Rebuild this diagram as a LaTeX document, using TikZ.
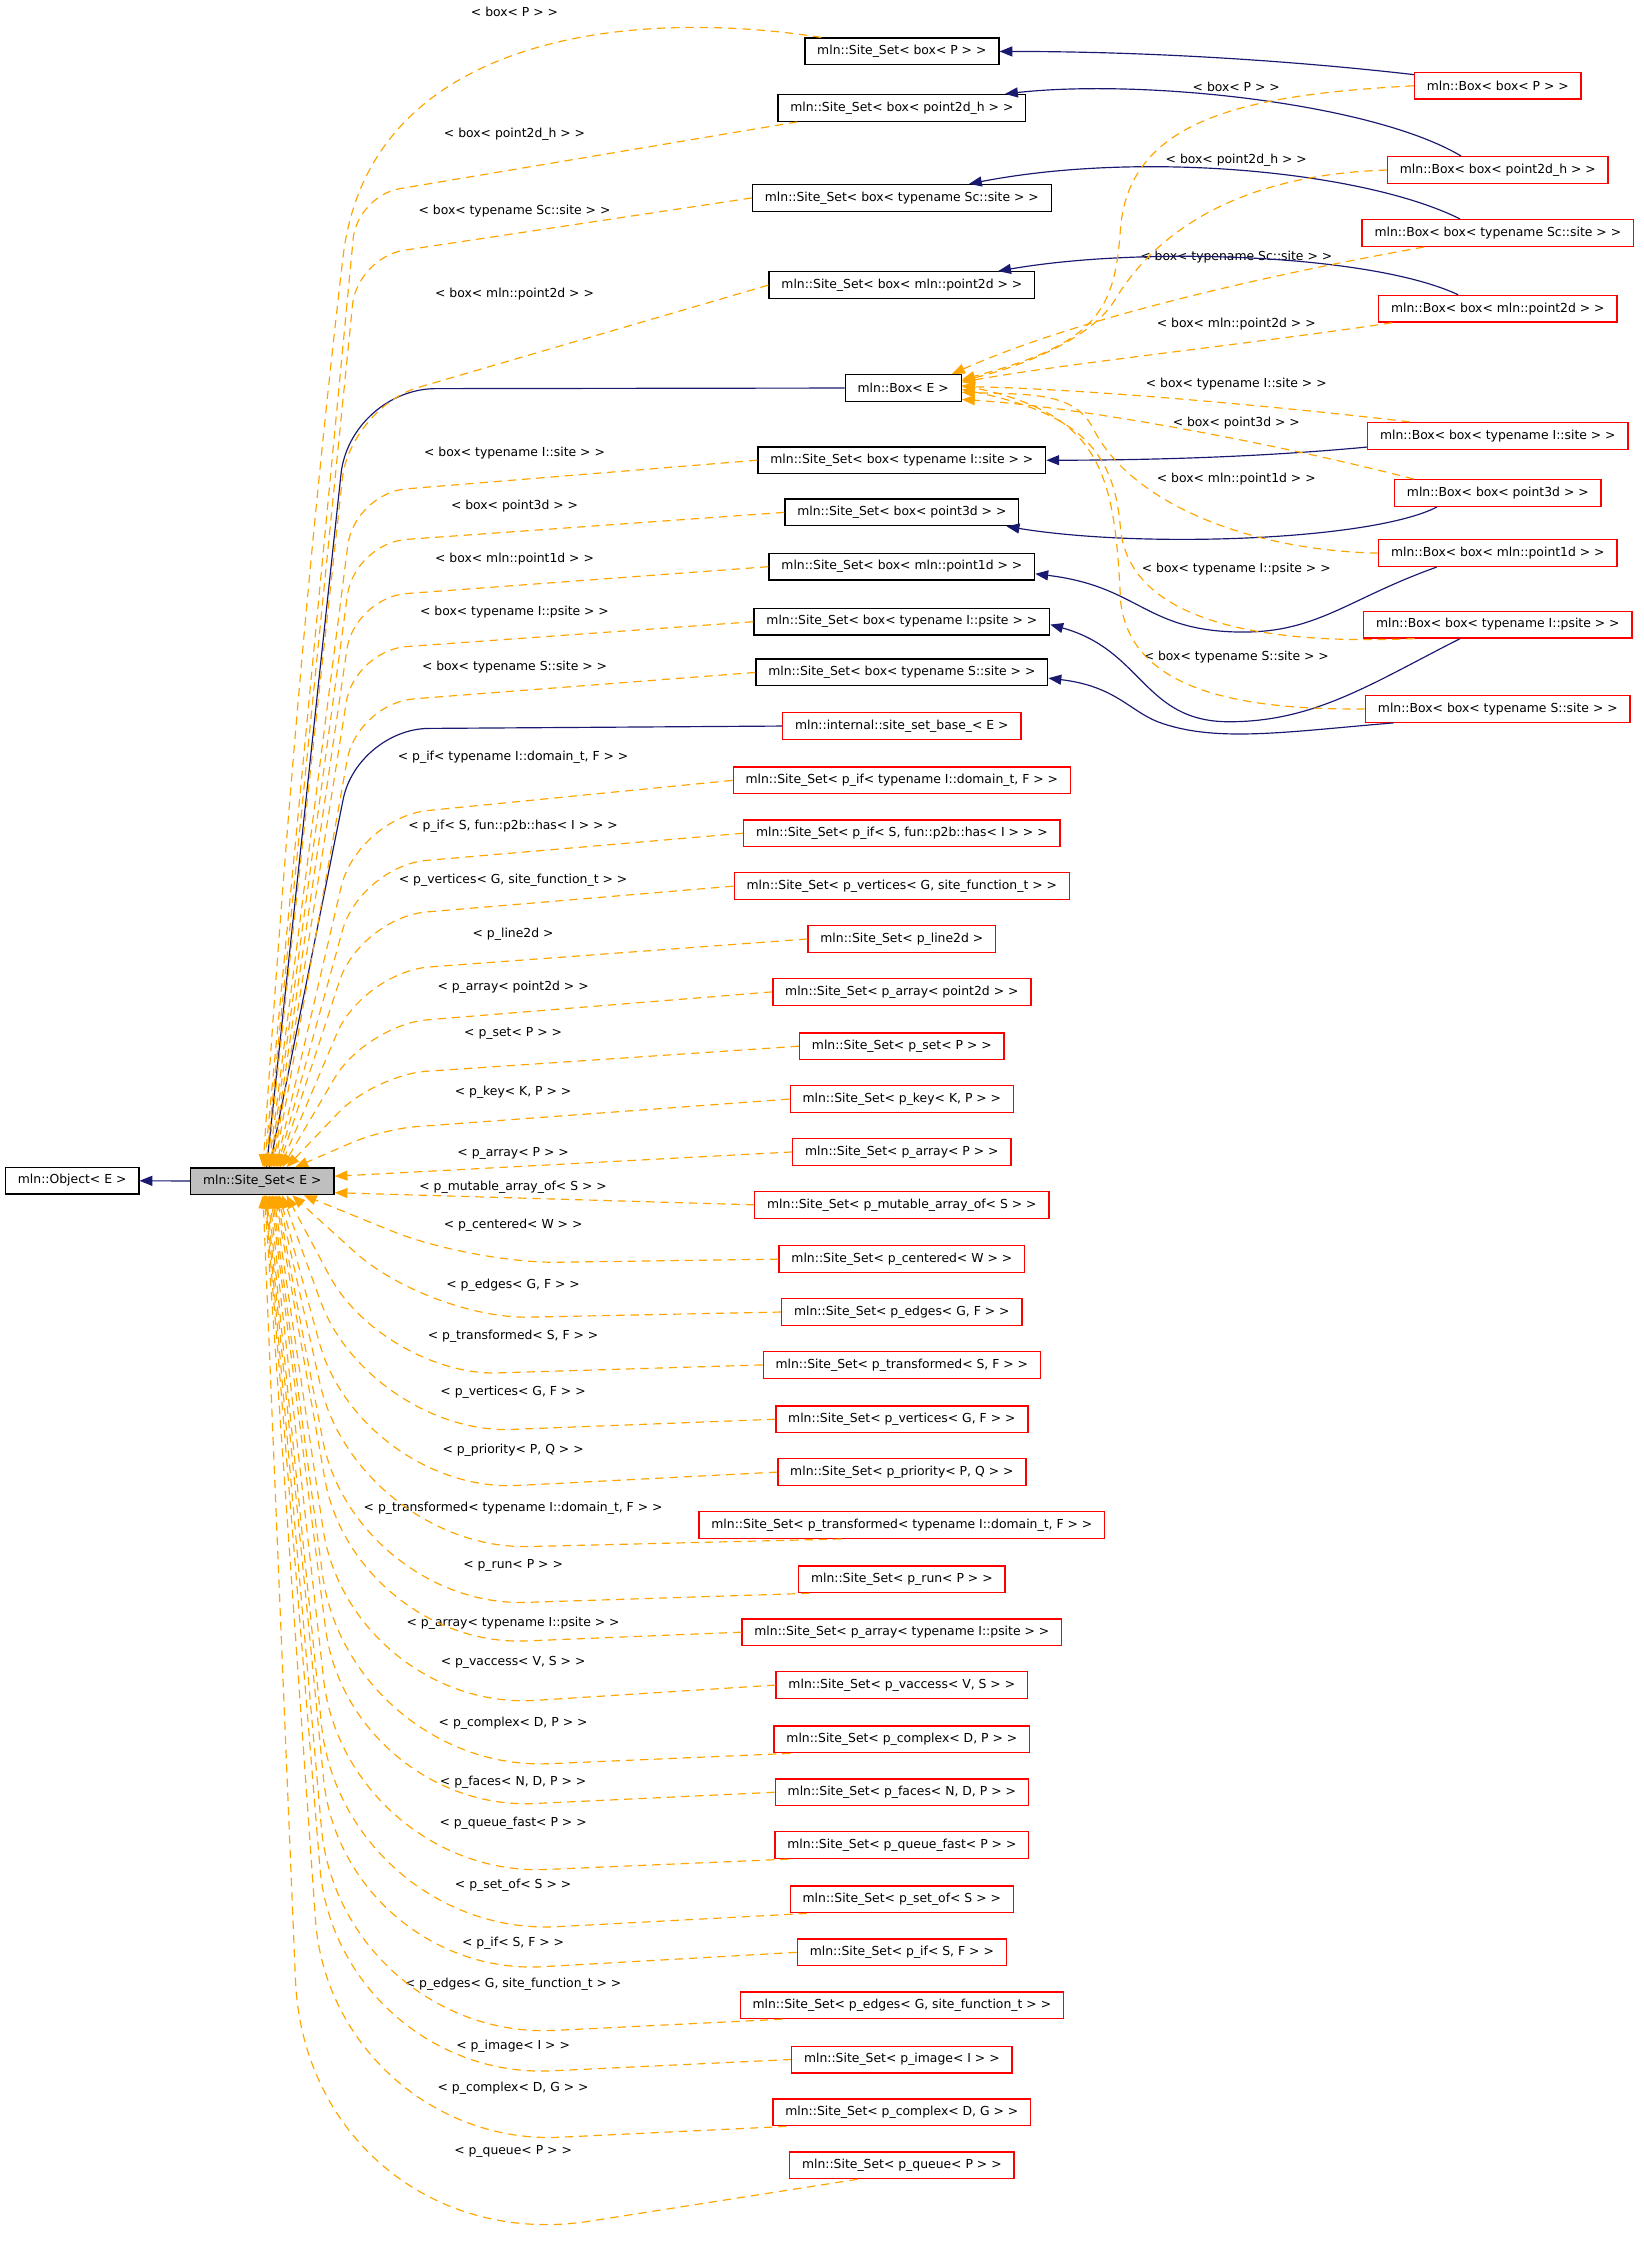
\documentclass[tikz,border=0pt]{standalone}
\usepackage{fontspec}
\setmainfont{DejaVu Sans}
\usetikzlibrary{arrows.meta,calc}
\definecolor{EdgeNavy}{HTML}{191970}
\definecolor{EdgeOrange}{HTML}{FFA500}
\definecolor{BoxRed}{HTML}{FF0000}
\definecolor{BoxGray}{HTML}{BFBFBF}

\begin{document}
\begin{tikzpicture}[
  x=0.03cm,y=-0.03cm,
  every node/.style={font=\fontsize{7.4}{9}\selectfont},
  cls/.style={draw=black,line width=0.8pt,fill=white,inner xsep=0.26cm,inner ysep=0pt,minimum height=0.56cm},
  undoc/.style={cls,draw=BoxRed},
  lbl/.style={inner sep=0pt},
  pub/.style={draw=EdgeNavy,line width=0.7pt,-{Triangle[length=0.27cm,width=0.21cm]}},
  tmpl/.style={draw=EdgeOrange,line width=0.7pt,dash pattern=on 5pt off 3.5pt,-{Triangle[length=0.27cm,width=0.21cm]}}
]
  \useasboundingbox (0,0) rectangle (1150,1568);

  % base classes
  \node[cls] (obj) at (50.5,826) {mln::Object< E >};
  \node[cls,fill=BoxGray] (ss) at (183.5,826.5) {mln::Site\_Set< E >};
  \node[cls] (boxE) at (632,271.5) {mln::Box< E >};
  \node[undoc] (base) at (631,508) {mln::internal::site\_set\_base\_< E >};

  % box< ... > instances
  \foreach \n/\inn/\ys/\lys/\yb/\lyb in {
    P/P/36/8/60/61,
    Ph/point2d\_h/75.5/94/119/112,
    Sc/typename Sc::site/138.5/148/163/180,
    Mtwo/mln::point2d/199.5/206/216/227,
    Is/typename I::site/322/317/305/269,
    Pthree/point3d/358.5/354/345/296,
    Mone/mln::point1d/396.5/391/387/335,
    Ip/typename I::psite/435/428/437/398,
    Ss/typename S::site/470.5/467/496/460}{
    \node[cls] (ssb\n) at (631,\ys) {mln::Site\_Set< box< \inn{} > >};
    \node[undoc] (bx\n) at (1048,\yb) {mln::Box< box< \inn{} > >};
    \node[lbl] (lssb\n) at (360,\lys) {< box< \inn{} > >};
    \node[lbl] (lbx\n) at (865,\lyb) {< box< \inn{} > >};
  }

  % site sets
  \foreach \n/\inn/\y/\ly in {
    IfDom/{p\_if< typename I::domain\_t, F >}/546/530,
    IfHas/{p\_if< S, fun::p2b::has< I > >}/583/578,
    VertSf/{p\_vertices< G, site\_function\_t >}/620/616,
    Line/p\_line2d/657/654,
    ArrPt/{p\_array< point2d >}/694/691,
    Set/{p\_set< P >}/732/723,
    Key/{p\_key< K, P >}/769/764,
    ArrP/{p\_array< P >}/806/807,
    Mut/{p\_mutable\_array\_of< S >}/843/831,
    Cent/{p\_centered< W >}/881/857,
    EdgGF/{p\_edges< G, F >}/918/899,
    TrSF/{p\_transformed< S, F >}/955/935,
    VertGF/{p\_vertices< G, F >}/993/974,
    Prio/{p\_priority< P, Q >}/1030/1015,
    TrDom/{p\_transformed< typename I::domain\_t, F >}/1067/1055,
    Run/{p\_run< P >}/1105/1095,
    ArrIp/{p\_array< typename I::psite >}/1142/1136,
    Vacc/{p\_vaccess< V, S >}/1179/1163,
    CplxDP/{p\_complex< D, P >}/1217/1206,
    Faces/{p\_faces< N, D, P >}/1254/1247,
    QFast/{p\_queue\_fast< P >}/1291/1276,
    SetOf/{p\_set\_of< S >}/1329/1319,
    IfSF/{p\_if< S, F >}/1366/1360,
    EdgSf/{p\_edges< G, site\_function\_t >}/1403/1388,
    Image/{p\_image< I >}/1441/1432,
    CplxDG/{p\_complex< D, G >}/1478/1461,
    Queue/{p\_queue< P >}/1515/1505}{
    \node[undoc] (p\n) at (631,\y) {mln::Site\_Set< \inn{} >};
    \node[lbl] (lp\n) at (359,\ly) {< \inn{} >};
  }

  % public inheritance
  \draw[pub] (ss) -- (obj);
  \draw[pub,rounded corners=18mm] (boxE.west) -- (245,272) -- ($(ss.north)+(3,0)$);
  \draw[pub,rounded corners=15mm] (base.west) -- (250,510) -- ($(ss.north)+(5,0)$);

  \draw[pub] ($(bxP.north west)+(0,2)$) .. controls (900,42) and (800,36) .. (ssbP.east);
  \draw[pub] ($(bxPh.north west)+(52,0)$) .. controls (960,72) and (800,55) .. ($(ssbPh.north east)+(-15,0)$);
  \draw[pub] ($(bxSc.north west)+(69,0)$) .. controls (955,120) and (800,105) .. ($(ssbSc.north east)+(-58,0)$);
  \draw[pub] ($(bxMtwo.north west)+(56,0)$) .. controls (960,178) and (800,172) .. ($(ssbMtwo.north east)+(-26,0)$);
  \draw[pub] ($(bxIs.south west)+(0,-2)$) .. controls (880,320) and (800,322) .. (ssbIs.east);
  \draw[pub] ($(bxPthree.south west)+(30,0)$) .. controls (960,378) and (800,384) .. ($(ssbPthree.south east)+(-9,0)$);
  \draw[pub] ($(bxMone.south west)+(41,0)$) .. controls (940,420) and (920,445) .. (860,442)
    .. controls (800,439) and (795,410) .. ($(ssbMone.east)+(0,5)$);
  \draw[pub] ($(bxIp.south west)+(68,0)$) .. controls (960,478) and (920,505) .. (860,505)
    .. controls (800,505) and (800,455) .. ($(ssbIp.east)+(0,2)$);
  \draw[pub] ($(bxSs.south west)+(20,0)$) .. controls (900,512) and (850,520) .. (810,505)
    .. controls (790,497) and (780,480) .. ($(ssbSs.east)+(0,4)$);

  % template instances of Box< E >
  \draw[tmpl] (bxP.west) .. controls (880,66) and (790,80) .. (784,160)
    .. controls (780,215) and (770,240) .. ($(boxE.east)+(0,-6)$);
  \draw[tmpl] (bxPh.west) .. controls (870,122) and (810,160) .. (780,210)
    .. controls (765,235) and (720,255) .. ($(boxE.east)+(0,-5)$);
  \draw[tmpl] ($(bxSc.south west)+(44,0)$) .. controls (900,190) and (760,220) .. ($(boxE.north east)+(-7,0)$);
  \draw[tmpl] ($(bxMtwo.south west)+(10,0)$) .. controls (880,240) and (740,255) .. ($(boxE.east)+(0,-4)$);
  \draw[tmpl] ($(bxIs.north west)+(30,0)$) .. controls (900,285) and (760,272) .. ($(boxE.east)+(0,-1)$);
  \draw[tmpl] ($(bxPthree.north west)+(14,0)$) .. controls (900,312) and (760,285) .. ($(boxE.east)+(0,8)$);
  \draw[tmpl] (bxMone.west) .. controls (870,385) and (790,350) .. (765,300)
    .. controls (752,274) and (720,276) .. ($(boxE.east)+(0,3)$);
  \draw[tmpl] ($(bxIp.south west)+(36,0)$) .. controls (870,452) and (790,430) .. (784,370)
    .. controls (780,320) and (760,290) .. ($(boxE.east)+(0,1)$);
  \draw[tmpl] (bxSs.west) .. controls (860,497) and (790,480) .. (784,420)
    .. controls (780,330) and (770,290) .. ($(boxE.east)+(0,-2)$);

  % template instances of Site_Set< E >, from above
  \draw[tmpl] ($(ssbP.north west)+(12,0)$) .. controls (440,5) and (258,25) .. (240,180)
    .. controls (212,420) and (195,650) .. ($(ss.north)+(0.5,0)$);
  \foreach \n/\sa/\sdx/\kx/\ky/\tdx/\rad in {
    ssbPh/south west/14/250/137/1.5/9,
    ssbSc/west/0/250/180/2.5/10,
    ssbMtwo/west/0/245/285/3.5/15,
    ssbIs/west/0/248/345/4.5/11,
    ssbPthree/west/0/248/380/5.5/11,
    ssbMone/west/0/248/418/6.5/11,
    ssbIp/west/0/248/455/7.5/11,
    ssbSs/west/0/250/492/8.5/12,
    pIfDom/west/0/250/572/9.5/15,
    pIfHas/west/0/252/606/10.5/14,
    pVertSf/west/0/252/642/11.5/14,
    pLine/west/0/254/680/12.5/14,
    pArrPt/west/0/256/717/14/13,
    pSet/west/0/262/752/17/11,
    pKey/west/0/268/790/23/7}
    \draw[tmpl,rounded corners=\rad mm] ($(\n.\sa)+(\sdx,0)$) -- (\kx,\ky) -- ($(ss.north)+(\tdx,0)$);

  % from the side
  \draw[tmpl] (pArrP.west) -- ($(ss.east)+(0,-3.5)$);
  \draw[tmpl] (pMut.west) -- ($(ss.east)+(0,8)$);

  % from below
  \foreach \n/\sa/\sdx/\kx/\ky/\tdx/\rad in {
    pCent/west/0/330/884/29/18,
    pEdgGF/west/0/300/923/21/21,
    pTrSF/west/0/268/963/17/24,
    pVertGF/west/0/258/1004/14/30,
    pPrio/west/0/252/1045/12/33,
    pTrDom/south west/100/250/1085/11/36,
    pRun/south west/8/248/1125/10/36,
    pArrIp/west/0/248/1153/9/36,
    pVacc/west/0/245/1198/8/39,
    pCplxDP/south west/12/244/1240/7/42,
    pFaces/west/0/244/1268/6/39,
    pQFast/south west/10/242/1314/5/42,
    pSetOf/south west/12/240/1356/4/45,
    pIfSF/west/0/240/1384/3/42,
    pEdgSf/south west/30/238/1428/2.5/45,
    pImage/west/0/236/1456/2/45,
    pCplxDG/south west/10/232/1503/1.5/48,
    pQueue/south/-31/215/1585/0.5/60}
    \draw[tmpl,rounded corners=\rad mm] ($(\n.\sa)+(\sdx,0)$) -- (\kx,\ky) -- ($(ss.south)+(\tdx,0)$);
\end{tikzpicture}
\end{document}
